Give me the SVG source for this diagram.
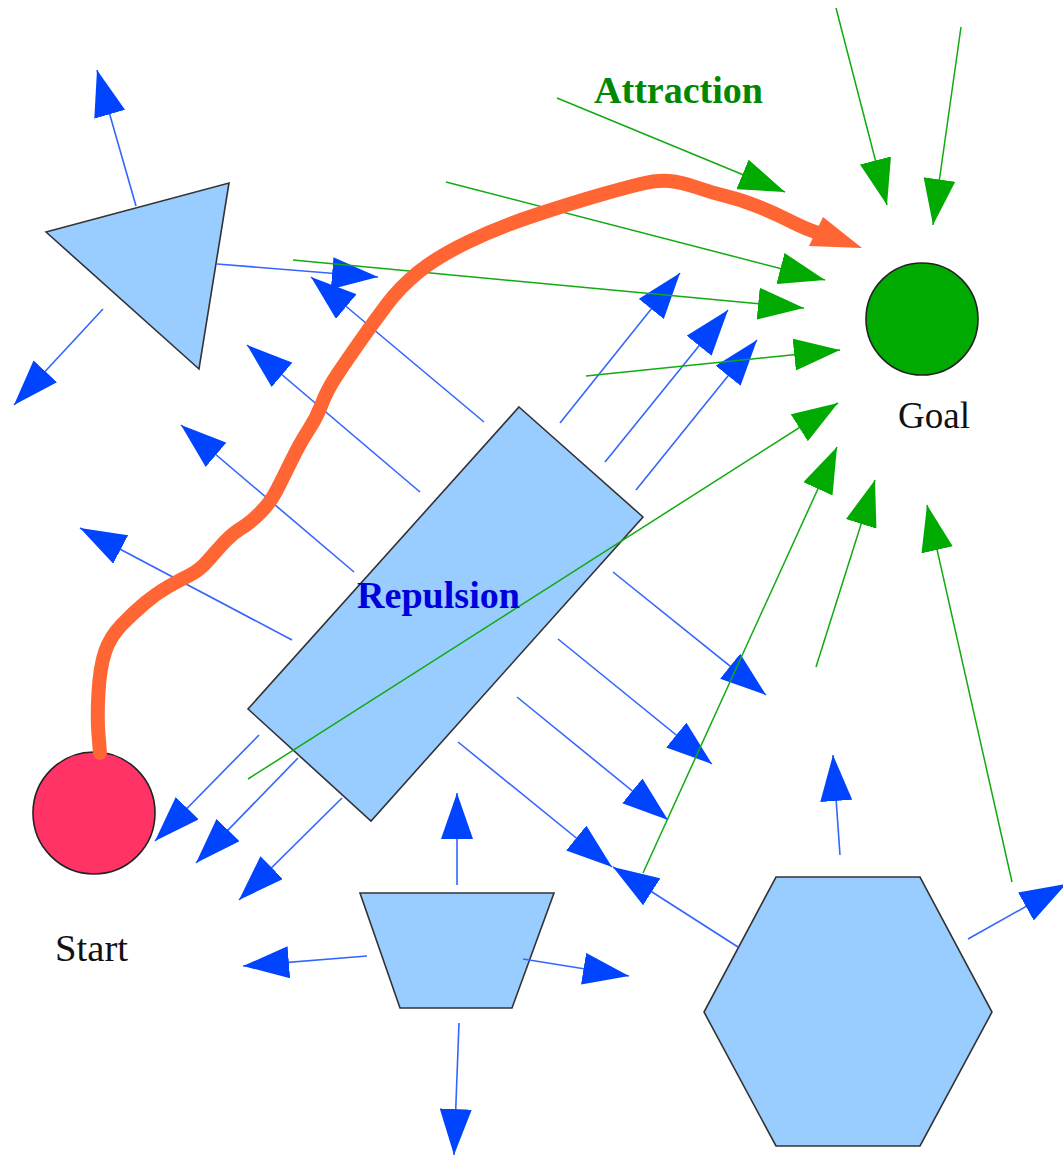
<svg xmlns="http://www.w3.org/2000/svg" width="1063" height="1157" viewBox="0 0 1063 1157">
<style>
.obst{fill:#99ccff;stroke:#333333;stroke-width:1.6;stroke-linejoin:miter}
.rep{stroke:#3366ff;stroke-width:1.6;fill:none}
.att{stroke:#11aa11;stroke-width:1.5;fill:none}
.lbl{font-family:"Liberation Serif","Times New Roman",serif;font-size:38px;fill:#111111}
.big{font-family:"Liberation Serif","Times New Roman",serif;font-size:38px;font-weight:bold}
</style>
<defs>
<marker id="hb" viewBox="0 0 46 32" refX="46" refY="16" markerWidth="46" markerHeight="32" markerUnits="userSpaceOnUse" orient="auto">
<path d="M0,0 L46,16 L0,32 Z" fill="#0044ff"/>
</marker>
<marker id="hg" viewBox="0 0 46 32" refX="46" refY="16" markerWidth="46" markerHeight="32" markerUnits="userSpaceOnUse" orient="auto">
<path d="M0,0 L46,16 L0,32 Z" fill="#00aa00"/>
</marker>
</defs>
<rect width="1063" height="1157" fill="#ffffff"/>

<g id="triangle"><polygon class="obst" points="46,232 229,183 199,369"/></g>
<g id="obstacle-rect"><polygon class="obst" points="519,407 643,517 371,821 248,709"/></g>
<g id="trapezoid"><polygon class="obst" points="360,893 554,893 512,1008 400,1008"/></g>
<g id="hexagon"><polygon class="obst" points="776,877 920,877 992,1012 920,1146 776,1146 704,1012"/></g>
<g id="goal"><circle cx="922" cy="319" r="56" fill="#00aa00" stroke="#222222" stroke-width="1.6"/></g>
<g id="start"><circle cx="94" cy="813" r="61" fill="#ff3366" stroke="#222222" stroke-width="1.6"/></g>

<g id="connectors">
<g id="repulsion">
<line class="rep" marker-end="url(#hb)" x1="136" y1="206" x2="97" y2="70"/>
<line class="rep" marker-end="url(#hb)" x1="103" y1="309" x2="14" y2="405"/>
<line class="rep" marker-end="url(#hb)" x1="217" y1="264" x2="378" y2="277"/>
<line class="rep" marker-end="url(#hb)" x1="484" y1="422" x2="311" y2="277"/>
<line class="rep" marker-end="url(#hb)" x1="420" y1="492" x2="247" y2="345"/>
<line class="rep" marker-end="url(#hb)" x1="354" y1="572" x2="181" y2="425"/>
<line class="rep" marker-end="url(#hb)" x1="292" y1="640" x2="80" y2="528"/>
<line class="rep" marker-end="url(#hb)" x1="560" y1="423" x2="680" y2="273"/>
<line class="rep" marker-end="url(#hb)" x1="605" y1="462" x2="728" y2="310"/>
<line class="rep" marker-end="url(#hb)" x1="636" y1="490" x2="757" y2="340"/>
<line class="rep" marker-end="url(#hb)" x1="613" y1="572" x2="766" y2="695"/>
<line class="rep" marker-end="url(#hb)" x1="558" y1="639" x2="712" y2="764"/>
<line class="rep" marker-end="url(#hb)" x1="517" y1="697" x2="668" y2="820"/>
<line class="rep" marker-end="url(#hb)" x1="458" y1="742" x2="612" y2="867"/>
<line class="rep" marker-end="url(#hb)" x1="259" y1="735" x2="155" y2="841"/>
<line class="rep" marker-end="url(#hb)" x1="298" y1="758" x2="196" y2="863"/>
<line class="rep" marker-end="url(#hb)" x1="342" y1="798" x2="239" y2="900"/>
<line class="rep" marker-end="url(#hb)" x1="457" y1="885" x2="457" y2="793"/>
<line class="rep" marker-end="url(#hb)" x1="459" y1="1023" x2="454" y2="1155"/>
<line class="rep" marker-end="url(#hb)" x1="367" y1="956" x2="243" y2="966"/>
<line class="rep" marker-end="url(#hb)" x1="523" y1="959" x2="629" y2="976"/>
<line class="rep" marker-end="url(#hb)" x1="738" y1="947" x2="613" y2="867"/>
<line class="rep" marker-end="url(#hb)" x1="840" y1="855" x2="833" y2="755"/>
<line class="rep" marker-end="url(#hb)" x1="968" y1="939" x2="1066" y2="884"/>
</g>
<g id="attraction">
<line class="att" marker-end="url(#hg)" x1="557" y1="98" x2="785" y2="192"/>
<line class="att" marker-end="url(#hg)" x1="836" y1="8" x2="887" y2="205"/>
<line class="att" marker-end="url(#hg)" x1="961" y1="27" x2="933" y2="225"/>
<line class="att" marker-end="url(#hg)" x1="446" y1="182" x2="825" y2="280"/>
<line class="att" marker-end="url(#hg)" x1="293" y1="260" x2="804" y2="308"/>
<line class="att" marker-end="url(#hg)" x1="586" y1="376" x2="840" y2="350"/>
<line class="att" marker-end="url(#hg)" x1="248" y1="779" x2="838" y2="403"/>
<line class="att" marker-end="url(#hg)" x1="643" y1="873" x2="837" y2="447"/>
<line class="att" marker-end="url(#hg)" x1="816" y1="667" x2="875" y2="480"/>
<line class="att" marker-end="url(#hg)" x1="1012" y1="882" x2="927" y2="505"/>
</g>
<g id="path">
<path fill="none" stroke="#ff6633" stroke-width="14" stroke-linejoin="round" stroke-linecap="round" d="M100,753 L98.5,735 Q97,717 98.5,692 Q100,667 105,652 Q110,637 121.5,625 Q133,613 145,603 Q157,593 168.5,586.5 Q180,580 190,575 Q200,570 208.5,560 Q217,550 225,541.5 Q233,533 241.5,528 Q250,523 260,513 Q270,503 276,491.5 Q282,480 291,461.5 Q300,443 308.5,430 Q317,417 322,403.5 Q327,390 337,375 Q347,360 360,341.5 Q373,323 386.5,305 Q400,287 418.5,272 Q437,257 468,242 Q499,227 535.5,215 Q572,203 598,195.5 Q624,188 640.5,184 Q657,180 669,181 Q681,182 697,187.5 Q713,193 727.5,196.5 Q742,200 758,206.5 Q774,213 788,220 Q802,227 810,230 L818,233"/>
<polygon fill="#ff6633" points="862,248 823,217 809,246"/>
</g>
</g>

<g id="labels">
<text class="big" fill="#008800" x="594" y="103" textLength="169" lengthAdjust="spacingAndGlyphs">Attraction</text>
<text class="big" fill="#0000dd" x="357" y="608" textLength="163" lengthAdjust="spacingAndGlyphs">Repulsion</text>
<text class="lbl" x="898" y="428" textLength="72" lengthAdjust="spacingAndGlyphs">Goal</text>
<text class="lbl" x="55" y="961" textLength="73" lengthAdjust="spacingAndGlyphs">Start</text>
</g>
</svg>
